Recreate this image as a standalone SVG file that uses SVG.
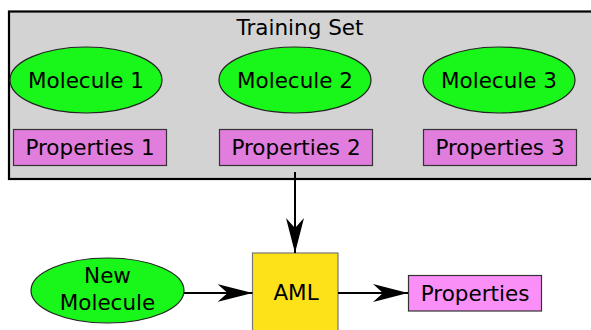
<svg xmlns="http://www.w3.org/2000/svg" width="591" height="330" viewBox="0 0 591 330">
<style>
  text { font-family: "DejaVu Sans", Verdana, sans-serif; font-size: 21.5px; fill: #000; text-anchor: middle; }
  .mol { fill: #19f619; stroke: #222; stroke-width: 1.2; }
  .prop { fill: #e17ddd; stroke: #333; stroke-width: 1.2; }
  .prop2 { fill: #fb8ff8; stroke: #333; stroke-width: 1.2; }
  .edge { stroke: #000; stroke-width: 2; fill: none; }
</style>
<defs>
  <marker id="arr" markerUnits="userSpaceOnUse" markerWidth="40" markerHeight="20" refX="35" refY="9" orient="auto" viewBox="0 0 40 20">
    <path d="M35,9 L0,0 L10,9 L0,18 Z" fill="#000"/>
  </marker>
</defs>
<g id="training-set">
  <rect x="9" y="11.5" width="600" height="167.5" fill="#d3d3d3" stroke="#000" stroke-width="2.2"/>
  <text x="300" y="35">Training Set</text>
</g>
<g id="molecule1">
  <ellipse class="mol" cx="86" cy="80" rx="76" ry="33"/>
  <text x="86" y="87.5">Molecule 1</text>
</g>
<g id="molecule2">
  <ellipse class="mol" cx="295" cy="80" rx="76" ry="33"/>
  <text x="295" y="87.5">Molecule 2</text>
</g>
<g id="molecule3">
  <ellipse class="mol" cx="499" cy="80" rx="76" ry="33"/>
  <text x="499" y="87.5">Molecule 3</text>
</g>
<g id="properties1">
  <rect class="prop" x="13.5" y="129.5" width="153" height="36"/>
  <text x="90" y="155">Properties 1</text>
</g>
<g id="properties2">
  <rect class="prop" x="219.5" y="129.5" width="153" height="36"/>
  <text x="296" y="155">Properties 2</text>
</g>
<g id="properties3">
  <rect class="prop" x="423.5" y="129.5" width="153" height="36"/>
  <text x="500" y="155">Properties 3</text>
</g>
<g id="new-molecule">
  <ellipse class="mol" cx="107.5" cy="290.5" rx="76.5" ry="32.5"/>
  <text x="107.5" y="283">New</text>
  <text x="107.5" y="310">Molecule</text>
</g>
<g id="aml">
  <rect x="252.5" y="253" width="85.5" height="90" fill="#fde21a" stroke="#777" stroke-width="1.2"/>
  <text x="296" y="300">AML</text>
</g>
<g id="properties-out">
  <rect class="prop2" x="408.5" y="275.5" width="133" height="35.5"/>
  <text x="475" y="301">Properties</text>
</g>
<g id="connectors">
  <line class="edge" x1="295" y1="172" x2="295" y2="253" marker-end="url(#arr)"/>
  <line class="edge" x1="184" y1="293" x2="252.5" y2="293" marker-end="url(#arr)"/>
  <line class="edge" x1="338" y1="293" x2="408" y2="293" marker-end="url(#arr)"/>
</g>
</svg>
